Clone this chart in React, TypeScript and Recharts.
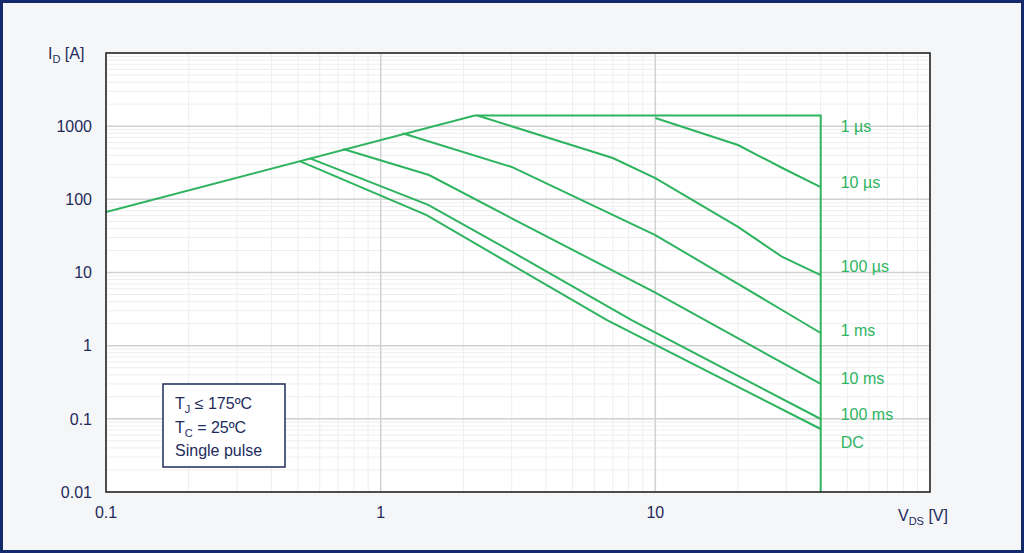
import React from 'react'
import {
  LineChart,
  Line,
  XAxis,
  YAxis,
  CartesianGrid,
  ReferenceLine,
  ReferenceDot,
} from 'recharts'

// outer limit: R_DS(on) line, current limit, V_DS max
const limitV = [0.1, 2.2, 40, 40]
const limitI = [67, 1400, 1400, 0.01]

// pulse curves
const v1us = [10, 20, 29, 40]
const i1us = [1290, 552, 268, 147]
const v10us = [2.25, 7, 10, 20, 29, 40]
const i10us = [1400, 367, 195, 42, 16.3, 9.2]
const v100us = [1.2, 3, 10, 20, 40]
const i100us = [800, 277, 32.5, 7, 1.49]
const v1ms = [0.73, 1.5, 3, 10, 40]
const i1ms = [487, 215, 55, 5.3, 0.3]
const v10ms = [0.55, 1.49, 3, 8.2, 40]
const i10ms = [365, 84, 19.3, 2.24, 0.0995]
const vDC = [0.51, 1.47, 4.5, 6.67, 40]
const iDC = [330, 61, 5.25, 2.24, 0.0726]

const labelNames = ['1 µs', '10 µs', '100 µs', '1 ms', '10 ms', '100 ms', 'DC']
const labelI = [1000, 173, 12.3, 1.64, 0.36, 0.116, 0.048]

const xMajor = [0.1, 1, 10, 100]
const yMajor = [0.01, 0.1, 1, 10, 100, 1000, 10000]

const zip = (v: number[], i: number[]) => v.map((x, k) => ({ v: x, i: i[k] }))

const series = [
  zip(limitV, limitI),
  zip(v1us, i1us),
  zip(v10us, i10us),
  zip(v100us, i100us),
  zip(v1ms, i1ms),
  zip(v10ms, i10ms),
  zip(vDC, iDC),
]

const minors = (majors: number[]) => {
  const out: number[] = []
  majors.slice(0, -1).forEach((m) => {
    for (let k = 1; k <= 9; k++) out.push(+(m * k).toPrecision(3))
  })
  out.push(majors[majors.length - 1])
  return out
}

const xTicks = minors(xMajor)
const yTicks = minors(yMajor)

const GREEN = '#2eb45f'
const NAVY = '#1d2b5c'
const FONT = '"Liberation Sans", Arial, sans-serif'

const fmtX = (v: number) => (v === 0.1 || v === 1 || v === 10 ? String(v) : '')
const fmtY = (v: number) =>
  [0.01, 0.1, 1, 10, 100, 1000].includes(v) ? String(v) : ''

const App = () => {
  return (
    <div
      style={{
        position: 'fixed',
        left: 0,
        top: 0,
        width: 1024,
        height: 553,
        background: '#f5f6f8',
        boxShadow: 'inset 0 0 0 3px #13296b',
        fontFamily: FONT,
      }}
    >
      <LineChart
        width={1024}
        height={553}
        margin={{ top: 53, right: 94, bottom: 31, left: 46 }}
      >
        <CartesianGrid stroke="#eeeeee" fill="#ffffff" />
        <XAxis
          dataKey="v"
          type="number"
          scale="log"
          domain={[0.1, 100]}
          ticks={xTicks}
          tickFormatter={fmtX}
          allowDataOverflow
          axisLine={false}
          tickLine={false}
          tickSize={0}
          tickMargin={15}
          height={30}
          interval={0}
          tick={{ fill: NAVY, fontSize: 16, fontFamily: FONT }}
        />
        <YAxis
          dataKey="i"
          type="number"
          scale="log"
          domain={[0.01, 10000]}
          ticks={yTicks}
          tickFormatter={fmtY}
          allowDataOverflow
          axisLine={false}
          tickLine={false}
          tickSize={0}
          tickMargin={14}
          width={60}
          interval={0}
          tick={{ fill: NAVY, fontSize: 16, fontFamily: FONT }}
        />
        {xMajor.map((x) => (
          <ReferenceLine key={'x' + x} x={x} stroke="#d2d2d2" strokeWidth={1.5} />
        ))}
        {yMajor.map((y) => (
          <ReferenceLine key={'y' + y} y={y} stroke="#d2d2d2" strokeWidth={1.5} />
        ))}
        {series.map((d, k) => (
          <Line
            key={k}
            data={d}
            dataKey="i"
            type="linear"
            stroke={GREEN}
            strokeWidth={2}
            dot={false}
            activeDot={false}
            isAnimationActive={false}
          />
        ))}
        {labelNames.map((name, k) => (
          <ReferenceDot
            key={name}
            x={40}
            y={labelI[k]}
            r={0}
            fill="none"
            stroke="none"
            label={{
              value: name,
              position: 'right',
              offset: 20,
              fill: GREEN,
              fontSize: 16,
              fontFamily: FONT,
            }}
          />
        ))}
      </LineChart>
      <svg
        width={1024}
        height={553}
        style={{ position: 'absolute', left: 0, top: 0, pointerEvents: 'none' }}
        fontFamily={FONT}
        fill={NAVY}
      >
        <rect x={106} y={53} width={824} height={439} fill="none" stroke="#2a2a2a" strokeWidth={1.6} />
        <text x={48} y={59} fontSize={16}>
          I<tspan dy={4} fontSize={11}>D</tspan>
          <tspan dy={-4}> [A]</tspan>
        </text>
        <text x={898} y={521} fontSize={16}>
          V<tspan dy={4} fontSize={11}>DS</tspan>
          <tspan dy={-4}> [V]</tspan>
        </text>
        <rect x={163} y={384} width={122} height={83} fill="#fff" stroke={NAVY} strokeWidth={1.5} />
        <text x={175} y={409} fontSize={16}>
          T<tspan dy={4} fontSize={11}>J</tspan>
          <tspan dy={-4}> ≤ 175ºC</tspan>
        </text>
        <text x={175} y={433} fontSize={16}>
          T<tspan dy={4} fontSize={11}>C</tspan>
          <tspan dy={-4}> = 25ºC</tspan>
        </text>
        <text x={175} y={456} fontSize={16}>
          Single pulse
        </text>
      </svg>
    </div>
  )
}

export default App
